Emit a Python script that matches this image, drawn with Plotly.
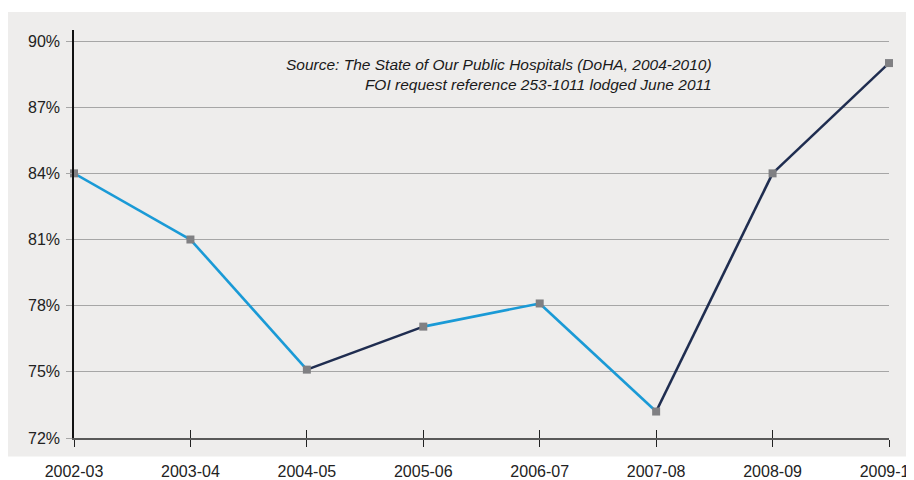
import plotly.graph_objects as go

years = ["2002-03", "2003-04", "2004-05", "2005-06", "2006-07", "2007-08", "2008-09", "2009-10"]
values = [84.0, 81.0, 75.1, 77.05, 78.1, 73.2, 84.0, 89.0]
seg_colors = ["#1a9ad6", "#1a9ad6", "#1f2d50", "#1a9ad6", "#1a9ad6", "#1f2d50", "#1f2d50"]
ytick_vals = [72, 75, 78, 81, 84, 87, 90]
ytick_text = ["72%", "75%", "78%", "81%", "84%", "87%", "90%"]
note = "Source: The State of Our Public Hospitals (DoHA, 2004-2010)<br>FOI request reference 253-1011 lodged June 2011"

xs = list(range(len(years)))
fig = go.Figure()
for i, c in enumerate(seg_colors):
    fig.add_trace(go.Scatter(x=xs[i:i + 2], y=values[i:i + 2], mode="lines",
                             line=dict(color=c, width=2.6), hoverinfo="skip",
                             showlegend=False, cliponaxis=False))
fig.add_trace(go.Scatter(x=xs, y=values, mode="markers",
                         marker=dict(symbol="square", size=8, color="#808083"),
                         showlegend=False, cliponaxis=False))
# invisible trace on overlay axis for inward ticks
fig.add_trace(go.Scatter(x=xs, y=values, mode="markers", marker=dict(opacity=0),
                         xaxis="x2", hoverinfo="skip", showlegend=False))

OFF = 8  # page body margin
W, H = 914, 480 - OFF
L, R, T, B = 66, 914 - 889 + 8, 22, 42
pw, ph = W - L - R, H - T - B


def px_x(p):
    return (p - OFF - L) / pw


def px_y(p):
    return (H - B - (p - OFF)) / ph


fig.add_shape(type="rect", xref="paper", yref="paper",
              x0=px_x(8), x1=px_x(940), y0=px_y(456.5), y1=px_y(12),
              fillcolor="#eeedec", line=dict(width=0), layer="below")

fig.add_annotation(xref="paper", yref="paper", x=px_x(714), y=px_y(54),
                   xanchor="right", yanchor="top", align="right", showarrow=False,
                   text="<i>" + note + "</i>",
                   font=dict(family="Liberation Sans Narrow, Liberation Sans, Arial", size=15.5, color="#1a1a1a"))

fig.update_layout(
    width=W, height=H,
    margin=dict(l=L, r=R, t=T, b=B, autoexpand=False),
    paper_bgcolor="white",
    plot_bgcolor="rgba(0,0,0,0)",
    font=dict(family="Liberation Sans, Arial", size=16, color="#222222"),
    xaxis=dict(range=[0, 7], tickvals=xs, ticktext=years, showgrid=False, zeroline=False,
               showline=True, linecolor="#595959", linewidth=2,
               ticks="outside", ticklen=7, tickwidth=1.2, tickcolor="#222222",
               automargin=False, ticklabelstandoff=11, ticklabeloverflow="allow"),
    xaxis2=dict(range=[0, 7], overlaying="x", side="bottom", tickvals=xs, showticklabels=False,
                showgrid=False, zeroline=False, showline=False,
                ticks="inside", ticklen=8, tickwidth=1.2, tickcolor="#222222", automargin=False),
    yaxis=dict(range=[72, 90.5], tickvals=ytick_vals, ticktext=ytick_text,
               showgrid=True, gridcolor="#a6a6a6", gridwidth=1.2, zeroline=False,
               showline=True, linecolor="#111111", linewidth=1.5,
               ticks="outside", ticklen=6, tickcolor="#a6a6a6", tickwidth=1.2,
               automargin=False, ticklabelstandoff=3),
)

fig.write_html("out.html")
